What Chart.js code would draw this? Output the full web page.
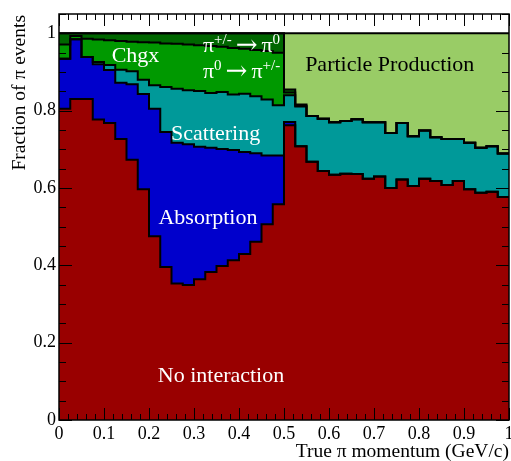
<!DOCTYPE html>
<html>
<head>
<meta charset="utf-8">
<script src="https://cdn.jsdelivr.net/npm/chart.js@4.4.1/dist/chart.umd.min.js"></script>
<style>
  html, body { margin: 0; padding: 0; background: #ffffff; }
  #wrap { width: 511px; height: 461px; }
</style>
</head>
<body>
<div id="wrap"><canvas id="chart" width="511" height="461"></canvas></div>
<script>
// Left edges of the 40 momentum bins (GeV/c); the last bin closes at 1.
const momentumBins = [0, 0.025, 0.05, 0.075, 0.1, 0.125, 0.15, 0.175, 0.2, 0.225,
  0.25, 0.275, 0.3, 0.325, 0.35, 0.375, 0.4, 0.425, 0.45, 0.475,
  0.5, 0.525, 0.55, 0.575, 0.6, 0.625, 0.65, 0.675, 0.7, 0.725,
  0.75, 0.775, 0.8, 0.825, 0.85, 0.875, 0.9, 0.925, 0.95, 0.975];
const lastBinEdge = 1;

// Fraction of pion events per bin, one array per interaction category (stacked).
const noInteraction = [0.805, 0.830, 0.830, 0.777, 0.768, 0.727, 0.673, 0.597, 0.475, 0.396,
  0.353, 0.349, 0.364, 0.383, 0.398, 0.413, 0.429, 0.461, 0.506, 0.558,
  0.762, 0.708, 0.668, 0.644, 0.634, 0.637, 0.636, 0.624, 0.630, 0.600,
  0.622, 0.605, 0.624, 0.618, 0.608, 0.618, 0.597, 0.588, 0.590, 0.577];
const absorption = [0.129, 0.155, 0.109, 0.143, 0.137, 0.145, 0.195, 0.246, 0.330, 0.349,
  0.364, 0.364, 0.343, 0.321, 0.303, 0.285, 0.264, 0.229, 0.178, 0.126,
  0.009, 0, 0, 0, 0, 0, 0, 0, 0, 0,
  0, 0, 0, 0, 0, 0, 0, 0, 0, 0];
const scattering = [0, 0, 0, 0.006, 0.013, 0.034, 0.034, 0.037, 0.061, 0.116,
  0.140, 0.140, 0.144, 0.142, 0.147, 0.144, 0.151, 0.147, 0.145, 0.130,
  0.069, 0.103, 0.118, 0.135, 0.136, 0.136, 0.142, 0.146, 0.140, 0.142,
  0.146, 0.129, 0.125, 0.113, 0.119, 0.109, 0.120, 0.116, 0.118, 0.112];
const chargeExchange = [0.037, 0.008, 0.047, 0.058, 0.064, 0.074, 0.076, 0.097, 0.110, 0.113,
  0.116, 0.118, 0.118, 0.121, 0.117, 0.120, 0.116, 0.120, 0.125, 0.136,
  0.007, 0.002, 0, 0, 0, 0, 0, 0, 0, 0,
  0, 0, 0, 0, 0, 0, 0, 0, 0, 0];
const chargedToNeutral = [0.029, 0.007, 0.014, 0.016, 0.018, 0.020, 0.022, 0.023, 0.024, 0.026,
  0.027, 0.029, 0.031, 0.033, 0.035, 0.038, 0.040, 0.043, 0.046, 0.050,
  0.008, 0.003, 0, 0, 0, 0, 0, 0, 0, 0,
  0, 0, 0, 0, 0, 0, 0, 0, 0, 0];
const particleProduction = [0, 0, 0, 0, 0, 0, 0, 0, 0, 0,
  0, 0, 0, 0, 0, 0, 0, 0, 0, 0,
  0.145, 0.184, 0.214, 0.221, 0.230, 0.227, 0.222, 0.230, 0.230, 0.258,
  0.232, 0.266, 0.251, 0.269, 0.273, 0.273, 0.283, 0.296, 0.292, 0.311];

// Axis tick labels
const xTickValues = [0, 0.1, 0.2, 0.3, 0.4, 0.5, 0.6, 0.7, 0.8, 0.9, 1];
const xTickLabels = ['0', '0.1', '0.2', '0.3', '0.4', '0.5', '0.6', '0.7', '0.8', '0.9', '1'];
const yTickValues = [0, 0.2, 0.4, 0.6, 0.8, 1];
const yTickLabels = ['0', '0.2', '0.4', '0.6', '0.8', '1'];

const SERIF = "'Liberation Serif', 'Times New Roman', 'DejaVu Serif', serif";
const ARROW_FONT = "'DejaVu Serif', serif";

// Turn a per-bin array into step points (left edges plus the closing edge).
function stepPoints(values) {
  const pts = momentumBins.map((x, i) => ({ x: x, y: values[i] }));
  pts.push({ x: lastBinEdge, y: values[values.length - 1] });
  return pts;
}

const layers = [
  { label: 'No interaction', values: noInteraction, color: '#990000' },
  { label: 'Absorption', values: absorption, color: '#0000cc' },
  { label: 'Scattering', values: scattering, color: '#009999' },
  { label: 'Chgx', values: chargeExchange, color: '#009900' },
  { label: 'pi+/- to pi0', values: chargedToNeutral, color: '#006600' },
  { label: 'Particle Production', values: particleProduction, color: '#99cc66' }
];

const datasets = layers.map((l, i) => ({
  label: l.label,
  data: stepPoints(l.values),
  backgroundColor: l.color,
  borderColor: '#000000',
  borderWidth: 2,
  stepped: true,
  pointRadius: 0,
  fill: i === 0 ? 'origin' : '-1'
}));

// Draws a run of text pieces (with superscripts) starting at x.
function drawPieces(ctx, pieces, x, y) {
  let cx = x;
  pieces.forEach(p => {
    ctx.font = p.size + 'px ' + (p.family || SERIF);
    ctx.textAlign = 'left';
    ctx.fillText(p.t, cx + (p.pad || 0), y + (p.dy || 0));
    cx += ctx.measureText(p.t).width + 2 * (p.pad || 0);
  });
}

// Region labels, anchored in data coordinates.
const regionLabels = [
  { text: 'No interaction', x: 0.36, y: 0.098, color: '#ffffff' },
  { text: 'Absorption', x: 0.331, y: 0.506, color: '#ffffff' },
  { text: 'Scattering', x: 0.348, y: 0.7235, color: '#ffffff' },
  { text: 'Chgx', x: 0.17, y: 0.925, color: '#ffffff' },
  { text: 'Particle Production', x: 0.735, y: 0.903, color: '#000000' }
];

const annotations = {
  id: 'annotations',
  afterDatasetsDraw(chart) {
    const { ctx, scales } = chart;
    const xs = scales.x, ys = scales.y;
    ctx.save();
    ctx.textBaseline = 'alphabetic';
    regionLabels.forEach(l => {
      ctx.fillStyle = l.color;
      ctx.font = '22px ' + SERIF;
      ctx.textAlign = 'center';
      ctx.fillText(l.text, xs.getPixelForValue(l.x), ys.getPixelForValue(l.y));
    });
    ctx.fillStyle = '#ffffff';
    drawPieces(ctx, [
      { t: 'π', size: 22 }, { t: '+/-', size: 15, dy: -8 },
      { t: '→', size: 26, family: ARROW_FONT, pad: 4, dy: 1 }, { t: 'π', size: 22 }, { t: '0', size: 15, dy: -8 }
    ], xs.getPixelForValue(0.32), ys.getPixelForValue(0.951));
    drawPieces(ctx, [
      { t: 'π', size: 22 }, { t: '0', size: 15, dy: -8 },
      { t: '→', size: 26, family: ARROW_FONT, pad: 4, dy: 1 }, { t: 'π', size: 22 }, { t: '+/-', size: 15, dy: -8 }
    ], xs.getPixelForValue(0.32), ys.getPixelForValue(0.884));
    ctx.restore();
  }
};

// Frame with inward ticks on all four sides, plus axis titles.
const frame = {
  id: 'frame',
  afterDraw(chart) {
    const { ctx, chartArea: a, scales } = chart;
    const xs = scales.x, ys = scales.y;
    ctx.save();
    ctx.strokeStyle = '#000000';
    ctx.lineWidth = 1;
    ctx.beginPath();
    for (let k = 0; k <= 50; k++) {
      const v = k * 0.02;
      const px = Math.round(xs.getPixelForValue(v)) + 0.5;
      const len = (k % 5 === 0) ? 12 : 6;
      ctx.moveTo(px, a.bottom); ctx.lineTo(px, a.bottom - len);
      ctx.moveTo(px, a.top); ctx.lineTo(px, a.top + len);
    }
    for (let k = 0; k <= 21; k++) {
      const v = k * 0.05;
      const py = Math.round(ys.getPixelForValue(v)) + 0.5;
      const len = (k % 4 === 0) ? 13 : 7;
      ctx.moveTo(a.left, py); ctx.lineTo(a.left + len, py);
      ctx.moveTo(a.right, py); ctx.lineTo(a.right - len, py);
    }
    ctx.stroke();
    ctx.lineWidth = 1.5;
    ctx.strokeRect(a.left, a.top, a.right - a.left, a.bottom - a.top);

    ctx.fillStyle = '#000000';
    ctx.font = '19.5px ' + SERIF;
    ctx.textBaseline = 'alphabetic';
    ctx.textAlign = 'right';
    ctx.fillText('True π momentum (GeV/c)', a.right, 457);
    ctx.translate(25, a.top + 1);
    ctx.rotate(-Math.PI / 2);
    ctx.textAlign = 'right';
    ctx.fillText('Fraction of π events', 0, 0);
    ctx.restore();
  }
};

new Chart(document.getElementById('chart'), {
  type: 'line',
  data: { datasets: datasets },
  options: {
    responsive: false,
    animation: false,
    events: [],
    layout: { padding: { top: 14, right: 2, left: 0, bottom: 0 } },
    plugins: {
      legend: { display: false },
      tooltip: { enabled: false },
      filler: { drawTime: 'beforeDatasetsDraw' }
    },
    scales: {
      x: {
        type: 'linear', min: 0, max: 1,
        grid: { display: false, drawTicks: false },
        border: { display: false },
        afterBuildTicks: s => { s.ticks = xTickValues.map(v => ({ value: v })); },
        afterFit: s => { s.height = 41; s.paddingLeft = 0; s.paddingRight = 0; },
        ticks: {
          autoSkip: false, maxRotation: 0, minRotation: 0, padding: 3,
          color: '#000000', font: { family: SERIF, size: 18 },
          callback: (v, i) => xTickLabels[i]
        }
      },
      y: {
        type: 'linear', min: 0, max: 1.05, stacked: true,
        grid: { display: false, drawTicks: false },
        border: { display: false },
        afterBuildTicks: s => { s.ticks = yTickValues.map(v => ({ value: v })); },
        afterFit: s => { s.width = 59; s.paddingTop = 0; s.paddingBottom = 0; },
        ticks: {
          autoSkip: false, padding: 3,
          color: '#000000', font: { family: SERIF, size: 18 },
          callback: (v, i) => yTickLabels[i]
        }
      }
    }
  },
  plugins: [annotations, frame]
});
</script>
</body>
</html>
